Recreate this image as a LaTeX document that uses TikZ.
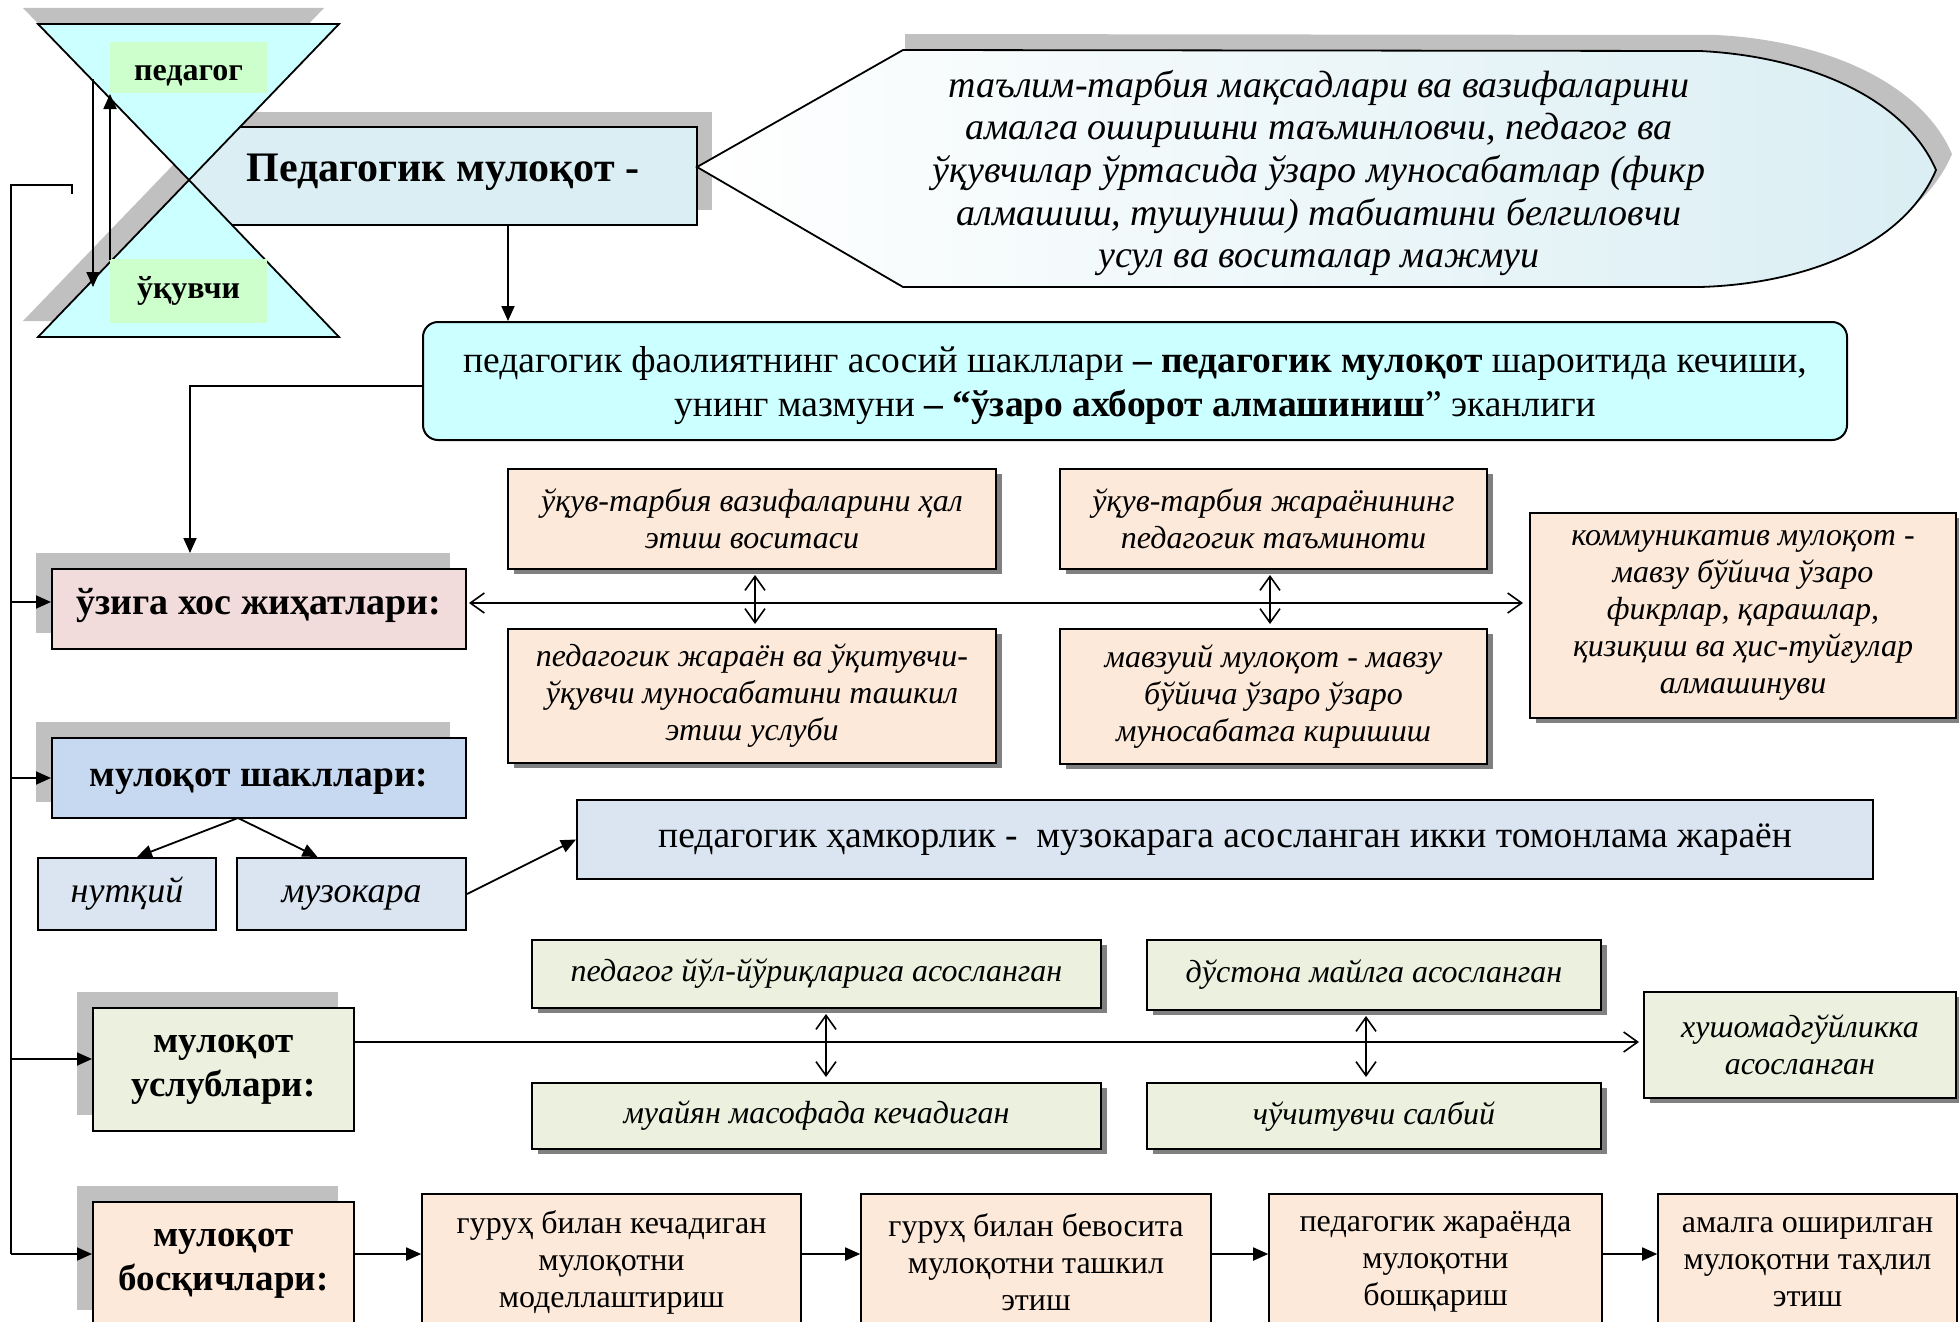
\documentclass[tikz,border=0pt]{standalone}
\usepackage{fontspec}
\setmainfont{Liberation Serif}
\usetikzlibrary{arrows.meta,shadows}
\definecolor{hgc}{HTML}{CCFFFF}
\definecolor{lblg}{HTML}{CCFFCC}
\definecolor{mainb}{HTML}{DAEEF3}
\definecolor{pinkb}{HTML}{F2DCDB}
\definecolor{blueb}{HTML}{C6D9F1}
\definecolor{lblue}{HTML}{DBE5F1}
\definecolor{greenb}{HTML}{EBF1DE}
\definecolor{peach}{HTML}{FDE9D9}
\definecolor{shgray}{HTML}{C0C0C0}
\definecolor{dkgray}{HTML}{808080}
\newcommand\fs[2]{\fontsize{#1}{#2}\selectfont}
\begin{document}
\begin{tikzpicture}[x=1pt,y=-1pt,
  bx/.style={draw=black, line width=2pt, inner sep=0pt, align=center},
  tl/.style={drop shadow={shadow xshift=-16pt,shadow yshift=16pt,fill=shgray,opacity=1}},
  tr/.style={drop shadow={shadow xshift=15pt,shadow yshift=15pt,fill=shgray,opacity=1}},
  br/.style={drop shadow={shadow xshift=6pt,shadow yshift=-5pt,fill=dkgray,opacity=1}},
  arr/.style={line width=1.8pt, -{Triangle[length=15pt,width=13pt]}},
  oarr/.style={line width=1.6pt, -{Straight Barb[length=14pt,width=20pt]}},
  dbl/.style={line width=1.6pt, {Straight Barb[length=14pt,width=20pt]}-{Straight Barb[length=14pt,width=20pt]}},
  ln/.style={line width=1.6pt},
  head/.style={font=\fs{37}{44}\bfseries},
  itx/.style={font=\fs{32}{37}\itshape},
  rgx/.style={font=\fs{32}{37}},
  lbl/.style={fill=lblg, minimum width=157pt, inner sep=0pt, font=\fs{32}{36}\bfseries},
]
\clip (0,0) rectangle (1959,1322);

% main title box
\node[bx, tr, fill=mainb, minimum width=508pt, minimum height=98pt, text depth=17pt, font=\fs{42}{48}\bfseries] (main) at (443,176) {Педагогик мулоқот -};

% hourglass
\fill[shgray] (23,8) -- (324,8) -- (174,164) -- cycle;
\fill[shgray] (174,164) -- (23,321) -- (324,321) -- cycle;
\draw[line width=1.8pt, fill=hgc] (38,24) -- (339,24) -- (189,180) -- cycle;
\draw[line width=1.8pt, fill=hgc] (189,180) -- (38,337) -- (339,337) -- cycle;
\node[lbl, minimum height=51pt, text height=27pt, text depth=0pt] (ped) at (188.5,67.5) {педагог};
\node[lbl, minimum height=64pt] (uk) at (188.5,291) {ўқувчи};
\coordinate (hd1) at (93,79); \coordinate (hd2) at (93,287);
\coordinate (hu1) at (110,260); \coordinate (hu2) at (110,94);
\draw[arr] (hd1) -- (hd2);
\draw[arr] (hu1) -- (hu2);

% callout
\fill[shgray] (905,34) -- (1716,35) .. controls (1820,40) and (1920,80) .. (1952,154) .. controls (1920,230) and (1820,268) .. (1716,271) -- (905,271) -- cycle;
\draw[line width=1.8pt, left color=white, right color=mainb] (697,167) -- (903,50) -- (1700,51) .. controls (1804,56) and (1904,96) .. (1936,170) .. controls (1904,246) and (1804,284) .. (1700,287) -- (903,287) -- cycle;
\node[font=\fs{38}{42.7}\itshape, align=center] (ctext) at (1319,173) {таълим-тарбия мақсадлари ва вазифаларини\\амалга оширишни таъминловчи, педагог ва\\ўқувчилар ўртасида ўзаро муносабатлар (фикр\\алмашиш, тушуниш) табиатини белгиловчи\\усул ва воситалар мажмуи};

% cyan box
\node[bx, fill=hgc, rounded corners=15pt, minimum width=1424pt, minimum height=118pt, text depth=0pt, font=\fs{37.5}{44}] (cyan) at (1135,381) {педагогик фаолиятнинг асосий шакллари \textbf{– педагогик мулоқот} шароитида кечиши,\\унинг мазмуни \textbf{– “ўзаро ахборот алмашиниш}” эканлиги};
\coordinate (xm) at (508,0);
\draw[arr] (main.south -| xm) -- (cyan.north -| xm);

% left headings
\node[bx, tl, fill=pinkb, minimum width=414pt, minimum height=80pt, head, font=\fs{38}{44}\bfseries, text depth=16pt] (uz) at (259,609) {ўзига хос жиҳатлари:};
\node[bx, tl, fill=blueb, minimum width=414pt, minimum height=80pt, head, font=\fs{37.5}{44}\bfseries, text depth=0pt] (sh) at (259,778) {мулоқот шакллари:};
\node[bx, tl, fill=greenb, minimum width=261pt, minimum height=123pt, head] (us) at (223.5,1069.5) {мулоқот\\услублари:};
\node[bx, tl, fill=peach, minimum width=261pt, minimum height=124pt, head] (bo) at (223.5,1264) {мулоқот\\босқичлари:};

\coordinate (uztop) at (190,553); \coordinate (yu) at (0,386);
\draw[arr] (cyan.west |- yu) -| (uztop);

% peach feature boxes
\node[bx, br, fill=peach, minimum width=488pt, minimum height=100pt, itx] (a) at (752,519) {ўқув-тарбия вазифаларини ҳал\\этиш воситаси};
\node[bx, br, fill=peach, minimum width=427pt, minimum height=100pt, itx] (b) at (1273.5,519) {ўқув-тарбия жараёнининг\\педагогик таъминоти};
\node[bx, br, fill=peach, minimum width=488pt, minimum height=134pt, itx] (c) at (752,696) {педагогик жараён ва ўқитувчи-\\ўқувчи муносабатини ташкил\\этиш услуби};
\node[bx, br, fill=peach, minimum width=427pt, minimum height=135pt, itx] (d) at (1273.5,696.5) {мавзуий мулоқот - мавзу\\бўйича ўзаро ўзаро\\муносабатга киришиш};
\node[bx, br, fill=peach, minimum width=426pt, minimum height=205pt, itx] (e) at (1743,615.5) {коммуникатив мулоқот -\\мавзу бўйича ўзаро\\фикрлар, қарашлар,\\қизиқиш ва ҳис-туйғулар\\алмашинуви};
\coordinate (yh) at (0,603);
\draw[dbl, shorten <=2pt, shorten >=6pt] (uz.east |- yh) -- (e.west |- yh);
\coordinate (xv1) at (755,0); \coordinate (xv2) at (1270,0);
\draw[dbl, shorten <=5pt, shorten >=4pt] (a.south -| xv1) -- (c.north -| xv1);
\draw[dbl, shorten <=5pt, shorten >=4pt] (b.south -| xv2) -- (d.north -| xv2);

% forms
\node[bx, fill=lblue, minimum width=178pt, minimum height=72pt, text height=24pt, text depth=8pt, font=\fs{36}{40}\itshape] (nut) at (127,894) {нутқий};
\node[bx, fill=lblue, minimum width=229pt, minimum height=72pt, text height=24pt, text depth=8pt, font=\fs{36}{40}\itshape] (muz) at (351.5,894) {музокара};
\node[bx, fill=lblue, minimum width=1296pt, minimum height=79pt, font=\fs{37.5}{40}] (ham) at (1225,839.5) {педагогик ҳамкорлик -\ \ музокарага асосланган икки томонлама жараён};
\coordinate (shb) at (238,818);
\draw[arr] (shb) -- ([xshift=10pt]nut.north);
\draw[arr] (shb) -- ([xshift=-34pt]muz.north);
\draw[arr] (muz.east) -- (ham.west);

% styles
\node[bx, br, fill=greenb, minimum width=569pt, minimum height=68pt, itx] (f) at (816.5,974) {педагог йўл-йўриқларига асосланган};
\node[bx, br, fill=greenb, minimum width=454pt, minimum height=70pt, itx] (g) at (1374,975) {дўстона майлга асосланган};
\node[bx, br, fill=greenb, minimum width=569pt, minimum height=66pt, itx] (h) at (816.5,1116) {муайян масофада кечадиган};
\node[bx, br, fill=greenb, minimum width=454pt, minimum height=66pt, itx] (i) at (1374,1116) {чўчитувчи салбий};
\node[bx, br, fill=greenb, minimum width=312pt, minimum height=106pt, itx] (j) at (1800,1045) {хушомадгўйликка\\асосланган};
\coordinate (yj) at (0,1042);
\draw[oarr, shorten >=4pt] (us.east |- yj) -- (j.west |- yj);
\coordinate (xv3) at (826,0); \coordinate (xv4) at (1366,0);
\draw[dbl, shorten <=5pt, shorten >=5pt] (f.south -| xv3) -- (h.north -| xv3);
\draw[dbl, shorten <=5pt, shorten >=5pt] (g.south -| xv4) -- (i.north -| xv4);

% stages
\node[bx, line width=1.6pt, fill=peach, minimum width=379pt, minimum height=136pt, rgx] (k) at (611.5,1262) {гуруҳ билан кечадиган\\мулоқотни\\моделлаштириш};
\node[bx, line width=1.6pt, fill=peach, minimum width=350pt, minimum height=136pt, rgx] (l) at (1036,1262) {гуруҳ билан бевосита\\мулоқотни ташкил\\этиш};
\node[bx, line width=1.6pt, fill=peach, minimum width=333pt, minimum height=136pt, rgx] (m) at (1435.5,1262) {педагогик жараёнда\\мулоқотни\\бошқариш};
\node[bx, line width=1.6pt, fill=peach, minimum width=299pt, minimum height=136pt, rgx] (n) at (1807.5,1262) {амалга оширилган\\мулоқотни таҳлил\\этиш};

% spine
\coordinate (sptop) at (72,194); \coordinate (spine) at (11,185);
\coordinate (ya) at (0,602); \coordinate (yb) at (0,778); \coordinate (yc) at (0,1059); \coordinate (yd) at (0,1254);
\draw[ln] (sptop) |- (spine) -- (spine |- yd);
\draw[arr] (spine |- ya) -- (uz.west |- ya);
\draw[arr] (spine |- yb) -- (sh.west |- yb);
\draw[arr] (spine |- yc) -- (us.west |- yc);
\draw[arr] (spine |- yd) -- (bo.west |- yd);
\draw[arr] (bo.east |- yd) -- (k.west |- yd);
\draw[arr] (k.east |- yd) -- (l.west |- yd);
\draw[arr] (l.east |- yd) -- (m.west |- yd);
\draw[arr] (m.east |- yd) -- (n.west |- yd);
\end{tikzpicture}
\end{document}
